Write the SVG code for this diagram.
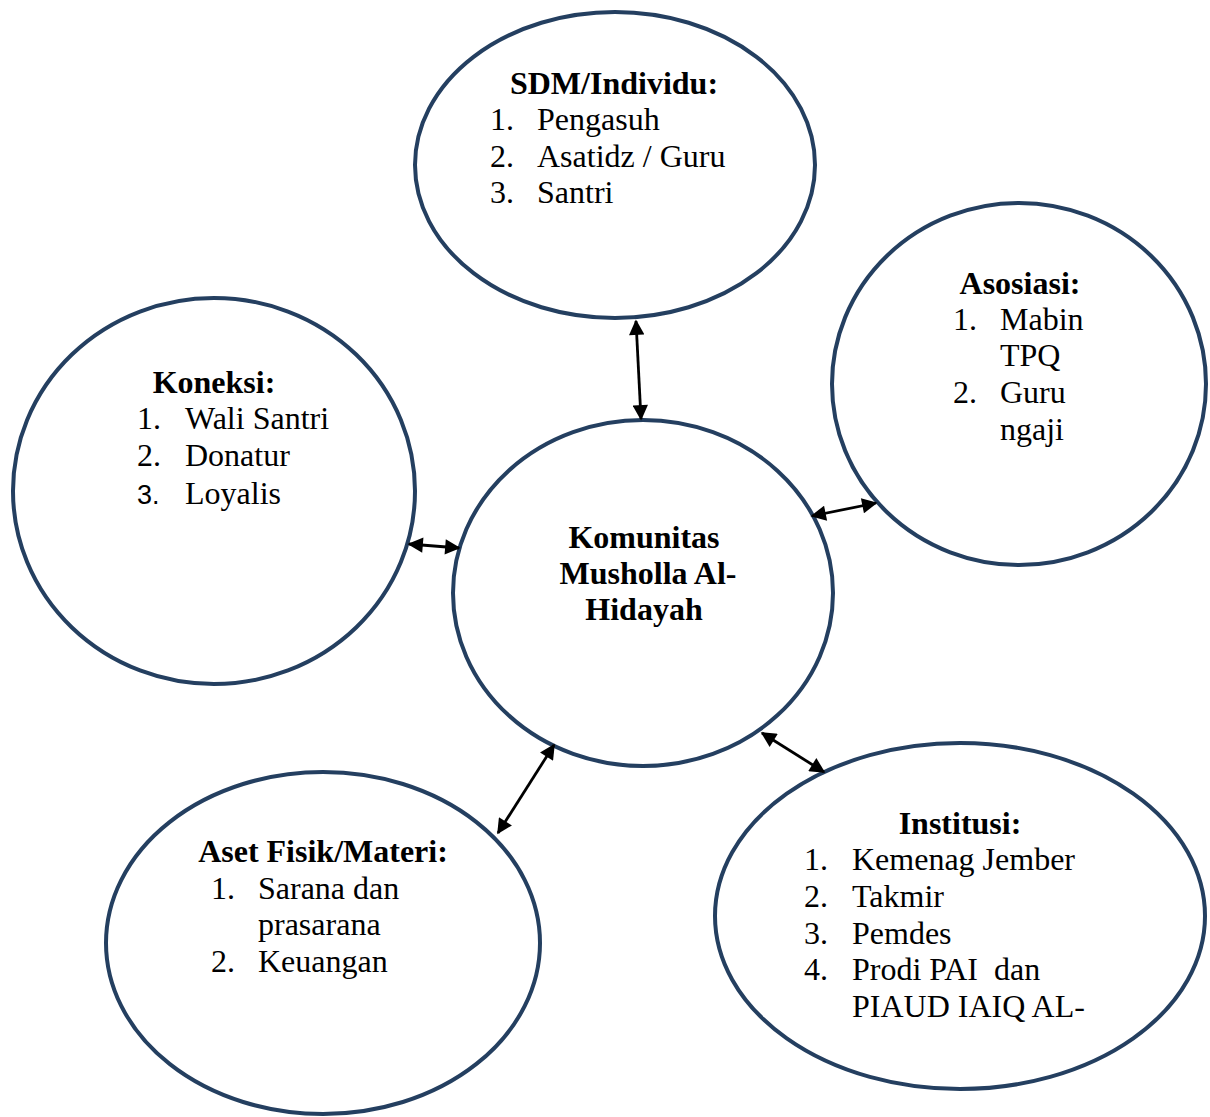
<svg xmlns="http://www.w3.org/2000/svg" width="1210" height="1117" viewBox="0 0 1210 1117">
<defs>
<style>
.node{fill:#fff;stroke:#243f60;stroke-width:4}
.t{font-family:"Liberation Serif","Times New Roman",serif;font-size:32px;fill:#000}
.b{font-weight:bold}
.s{font-family:"Liberation Sans",Arial,sans-serif;font-size:27px}
.c{stroke:#000;stroke-width:2.8;fill:none;marker-start:url(#ah);marker-end:url(#ah)}
</style>
<marker id="ah" viewBox="0 0 10 10" refX="9" refY="5" markerWidth="6" markerHeight="5.5" orient="auto-start-reverse" markerUnits="strokeWidth">
<path d="M0,0 L10,5 L0,10 z" fill="#000"/>
</marker>
</defs>
<rect width="1210" height="1117" fill="#fff"/>
<g id="sdm">
<ellipse class="node" cx="615" cy="165" rx="200" ry="153"/>
<text class="t b" x="614" y="94" text-anchor="middle">SDM/Individu:</text>
<text class="t" x="490" y="130">1.</text><text class="t" x="537" y="130">Pengasuh</text>
<text class="t" x="490" y="167">2.</text><text class="t" x="537" y="167">Asatidz / Guru</text>
<text class="t" x="490" y="203">3.</text><text class="t" x="537" y="203">Santri</text>
</g>
<g id="asosiasi">
<ellipse class="node" cx="1019" cy="384" rx="187" ry="181"/>
<text class="t b" x="1020" y="294" text-anchor="middle">Asosiasi:</text>
<text class="t" x="953" y="330">1.</text><text class="t" x="1000" y="330">Mabin</text>
<text class="t" x="1000" y="366">TPQ</text>
<text class="t" x="953" y="403">2.</text><text class="t" x="1000" y="403">Guru</text>
<text class="t" x="1000" y="440">ngaji</text>
</g>
<g id="koneksi">
<ellipse class="node" cx="214" cy="491" rx="201" ry="193"/>
<text class="t b" x="214" y="393" text-anchor="middle">Koneksi:</text>
<text class="t" x="137" y="429">1.</text><text class="t" x="185" y="429">Wali Santri</text>
<text class="t" x="137" y="466">2.</text><text class="t" x="185" y="466">Donatur</text>
<text class="t s" x="137" y="504">3.</text><text class="t" x="185" y="504">Loyalis</text>
</g>
<g id="komunitas">
<ellipse class="node" cx="643" cy="593" rx="190" ry="173"/>
<text class="t b" x="644" y="548" text-anchor="middle">Komunitas</text>
<text class="t b" x="648" y="584" text-anchor="middle">Musholla Al-</text>
<text class="t b" x="644" y="620" text-anchor="middle">Hidayah</text>
</g>
<g id="aset">
<ellipse class="node" cx="323" cy="943" rx="217" ry="171"/>
<text class="t b" x="323" y="862" text-anchor="middle">Aset Fisik/Materi:</text>
<text class="t" x="211" y="899">1.</text><text class="t" x="258" y="899">Sarana dan</text>
<text class="t" x="258" y="935">prasarana</text>
<text class="t" x="211" y="972">2.</text><text class="t" x="258" y="972">Keuangan</text>
</g>
<g id="institusi">
<ellipse class="node" cx="960" cy="916" rx="245" ry="173"/>
<text class="t b" x="960" y="834" text-anchor="middle">Institusi:</text>
<text class="t" x="804" y="870">1.</text><text class="t" x="852" y="870">Kemenag Jember</text>
<text class="t" x="804" y="907">2.</text><text class="t" x="852" y="907">Takmir</text>
<text class="t" x="804" y="944">3.</text><text class="t" x="852" y="944">Pemdes</text>
<text class="t" x="804" y="980">4.</text><text class="t" x="852" y="980" xml:space="preserve">Prodi PAI  dan</text>
<text class="t" x="852" y="1017">PIAUD IAIQ AL-</text>
</g>
<g id="connectors">
<line class="c" x1="636" y1="321" x2="641" y2="419"/>
<line class="c" x1="409" y1="544" x2="459" y2="548"/>
<line class="c" x1="812" y1="516" x2="876" y2="503"/>
<line class="c" x1="554" y1="745" x2="498" y2="833"/>
<line class="c" x1="762" y1="733" x2="824" y2="772"/>
</g>
</svg>
